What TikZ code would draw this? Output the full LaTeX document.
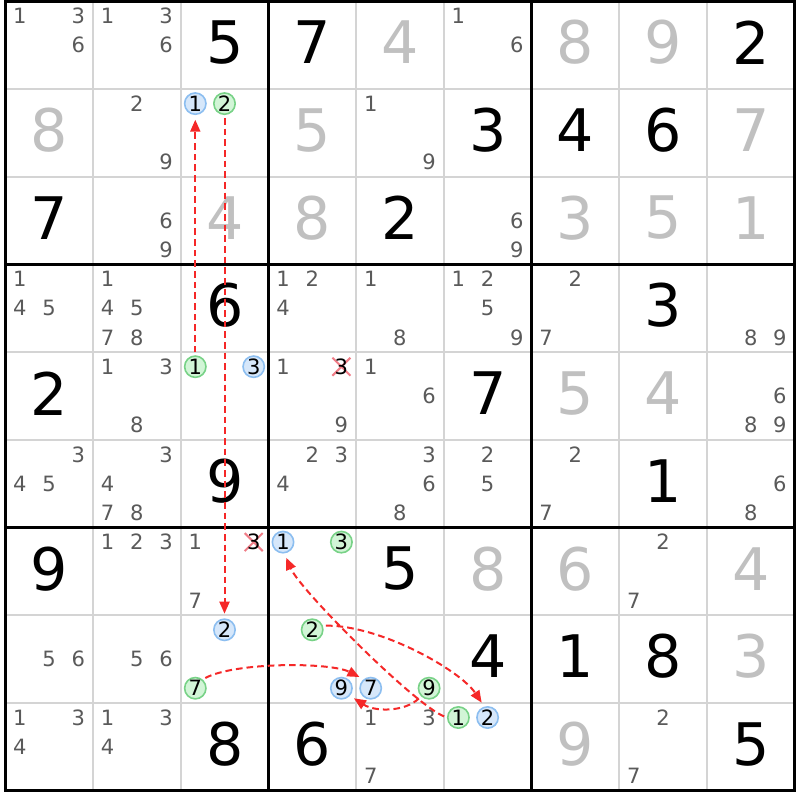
\documentclass[tikz,border=0pt]{standalone}
\usepackage{fontspec}
\setmainfont{DejaVu Sans}
\usetikzlibrary{arrows.meta,shapes.misc}
\definecolor{candgray}{RGB}{90,90,90}
\definecolor{solvedgray}{RGB}{192,192,192}
\definecolor{gridgray}{RGB}{212,212,212}
\definecolor{arrred}{RGB}{245,40,40}
\definecolor{xred}{RGB}{240,125,135}
\definecolor{bluefill}{RGB}{214,231,250}
\definecolor{bluedraw}{RGB}{140,190,240}
\definecolor{greenfill}{RGB}{210,245,215}
\definecolor{greendraw}{RGB}{120,210,135}
\newcommand\sdCandFont{\fontsize{15.8pt}{15.8pt}\selectfont}
\newcommand\sdBigFont{\fontsize{44pt}{44pt}\selectfont}
\newcommand\sdPos[3]{\pgfmathsetmacro\sdpx{5.5+(#2-1)*87.7+14.4+mod(#3-1,3)*29.2}\pgfmathsetmacro\sdpy{1.5+(#1-1)*87.7+14.4+floor((#3-1)/3)*29.2}}
\newcommand\sdCands[3]{\foreach \dg in {#3}{\sdPos{#1}{#2}{\dg}\node[cand] (k#1#2\dg) at (\sdpx,\sdpy) {\dg};}}
\newcommand\sdClue[3]{\node[clue] (v#1#2) at ({5.5+(#2-1)*87.7+43.85},{1.5+(#1-1)*87.7+41}) {#3};}
\newcommand\sdSolv[3]{\node[solved] (v#1#2) at ({5.5+(#2-1)*87.7+43.85},{1.5+(#1-1)*87.7+41}) {#3};}
\newcommand\sdBlue[4]{\sdPos{#2}{#3}{#4}\node[bc] (#1) at (\sdpx,\sdpy) {#4};}
\newcommand\sdGreen[4]{\sdPos{#2}{#3}{#4}\node[gc] (#1) at (\sdpx,\sdpy) {#4};}
\newcommand\sdCross[3]{\sdPos{#1}{#2}{#3}\node[xmark] (x#1#2) at (\sdpx,\sdpy) {};\node[cand,text=black] (k#1#2#3) at (\sdpx,\sdpy) {#3};}
\tikzset{
  cand/.style={inner sep=0pt, font=\sdCandFont, text=candgray},
  clue/.style={inner sep=0pt, font=\sdBigFont, text=black},
  solved/.style={inner sep=0pt, font=\sdBigFont, text=solvedgray},
  bc/.style={circle, draw=bluedraw, fill=bluefill, line width=1.2pt, minimum size=16pt, inner sep=0pt, font=\sdCandFont, text=black},
  gc/.style={circle, draw=greendraw, fill=greenfill, line width=1.2pt, minimum size=16pt, inner sep=0pt, font=\sdCandFont, text=black},
  xmark/.style={cross out, draw=xred, line width=1.5pt, minimum size=12pt, inner sep=0pt},
  thingrid/.style={draw=gridgray, line width=1.5pt},
  thickgrid/.style={draw=black, line width=2.5pt, line cap=rect},
  arr/.style={draw=arrred, line width=1.5pt, dash pattern=on 5pt off 3pt, -{Triangle[length=9pt,width=7.5pt]}, shorten >=3.5pt, shorten <=2.25pt}
}
\begin{document}
\begin{tikzpicture}[x=0.75pt,y=-0.75pt]
\useasboundingbox (0,0) rectangle (800,800);
\fill[white] (0,0) rectangle (800,800);
% grid
\foreach \i in {1,2,4,5,7,8}{
  \draw[thingrid] ({5.5+\i*87.7},1.5) -- ({5.5+\i*87.7},790.8);
  \draw[thingrid] (5.5,{1.5+\i*87.7}) -- (794.8,{1.5+\i*87.7});
}
\foreach \i in {0,3,6,9}{
  \draw[thickgrid] ({5.5+\i*87.7},1.5) -- ({5.5+\i*87.7},790.8);
  \draw[thickgrid] (5.5,{1.5+\i*87.7}) -- (794.8,{1.5+\i*87.7});
}
% clues
\sdClue{1}{3}{5}\sdClue{1}{4}{7}\sdClue{1}{9}{2}
\sdClue{2}{6}{3}\sdClue{2}{7}{4}\sdClue{2}{8}{6}
\sdClue{3}{1}{7}\sdClue{3}{5}{2}
\sdClue{4}{3}{6}\sdClue{4}{8}{3}
\sdClue{5}{1}{2}\sdClue{5}{6}{7}
\sdClue{6}{3}{9}\sdClue{6}{8}{1}
\sdClue{7}{1}{9}\sdClue{7}{5}{5}
\sdClue{8}{6}{4}\sdClue{8}{7}{1}\sdClue{8}{8}{8}
\sdClue{9}{3}{8}\sdClue{9}{4}{6}\sdClue{9}{9}{5}
% solved
\sdSolv{1}{5}{4}\sdSolv{1}{7}{8}\sdSolv{1}{8}{9}
\sdSolv{2}{1}{8}\sdSolv{2}{4}{5}\sdSolv{2}{9}{7}
\sdSolv{3}{3}{4}\sdSolv{3}{4}{8}\sdSolv{3}{7}{3}\sdSolv{3}{8}{5}\sdSolv{3}{9}{1}
\sdSolv{5}{7}{5}\sdSolv{5}{8}{4}
\sdSolv{7}{6}{8}\sdSolv{7}{7}{6}\sdSolv{7}{9}{4}
\sdSolv{8}{9}{3}
\sdSolv{9}{7}{9}
% candidates
\sdCands{1}{1}{1,3,6}\sdCands{1}{2}{1,3,6}\sdCands{1}{6}{1,6}
\sdCands{2}{2}{2,9}\sdCands{2}{5}{1,9}
\sdCands{3}{2}{6,9}\sdCands{3}{6}{6,9}
\sdCands{4}{1}{1,4,5}\sdCands{4}{2}{1,4,5,7,8}\sdCands{4}{4}{1,2,4}\sdCands{4}{5}{1,8}\sdCands{4}{6}{1,2,5,9}\sdCands{4}{7}{2,7}\sdCands{4}{9}{8,9}
\sdCands{5}{2}{1,3,8}\sdCands{5}{4}{1,9}\sdCands{5}{5}{1,6}\sdCands{5}{9}{6,8,9}
\sdCands{6}{1}{3,4,5}\sdCands{6}{2}{3,4,7,8}\sdCands{6}{4}{2,3,4}\sdCands{6}{5}{3,6,8}\sdCands{6}{6}{2,5}\sdCands{6}{7}{2,7}\sdCands{6}{9}{6,8}
\sdCands{7}{2}{1,2,3}\sdCands{7}{3}{1,7}\sdCands{7}{8}{2,7}
\sdCands{8}{1}{5,6}\sdCands{8}{2}{5,6}
\sdCands{9}{1}{1,3,4}\sdCands{9}{2}{1,3,4}\sdCands{9}{5}{1,3,7}\sdCands{9}{8}{2,7}
% eliminated
\sdCross{5}{4}{3}
\sdCross{7}{3}{3}
% highlighted candidates
\sdBlue{b231}{2}{3}{1}\sdGreen{g232}{2}{3}{2}
\sdGreen{g531}{5}{3}{1}\sdBlue{b533}{5}{3}{3}
\sdBlue{b741}{7}{4}{1}\sdGreen{g743}{7}{4}{3}
\sdBlue{b832}{8}{3}{2}\sdGreen{g837}{8}{3}{7}
\sdGreen{g842}{8}{4}{2}\sdBlue{b849}{8}{4}{9}
\sdBlue{b857}{8}{5}{7}\sdGreen{g859}{8}{5}{9}
\sdGreen{g961}{9}{6}{1}\sdBlue{b962}{9}{6}{2}
% chain arrows
\draw[arr] (g531) -- (b231);
\draw[arr] (g232) -- (b832);
\draw[arr] (g837.50) .. controls (235,662) and (330,662) .. (b857.128);
\draw[arr] (g842.21) .. controls (380,625) and (460,670) .. (b962.107);
\draw[arr] (g859.225) .. controls (405,712) and (375,712) .. (b849.319);
\draw[arr] (g961.180) .. controls (415,705) and (300,590) .. (b741.277);
\end{tikzpicture}
\end{document}
